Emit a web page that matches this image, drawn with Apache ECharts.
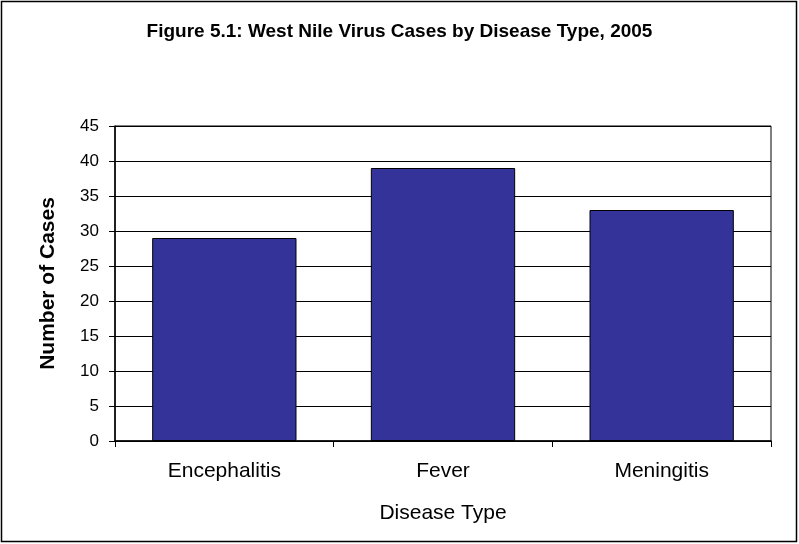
<!DOCTYPE html>
<html><head><meta charset="utf-8">
<script src="https://cdn.jsdelivr.net/npm/echarts@6/dist/echarts.min.js"></script>
<style>html,body{margin:0;padding:0;background:#fff}#c{width:799px;height:544px}</style>
</head><body><div id="c"></div>
<script>
const categories = ['Encephalitis', 'Fever', 'Meningitis'];
const cases = [29, 39, 33];
const yTicks = { min: 0, max: 45, interval: 5 };

const chart = echarts.init(document.getElementById('c'), null, { renderer: 'canvas' });
chart.setOption({
  animation: false,
  backgroundColor: '#fff',
  textStyle: { fontFamily: 'Liberation Sans, Arial, sans-serif' },
  title: {
    text: 'Figure 5.1: West Nile Virus Cases by Disease Type, 2005',
    left: 'center', top: 17,
    textStyle: { fontSize: 19, fontWeight: 'bold', color: '#000', fontFamily: 'Liberation Sans, Arial, sans-serif' }
  },
  graphic: [{
    type: 'rect', shape: { x: 1.5, y: 1.5, width: 795, height: 540 },
    style: { fill: null, stroke: '#000', lineWidth: 1.5 }, silent: true
  }, {
    type: 'rect', shape: { x: 115, y: 126, width: 656, height: 315 },
    style: { fill: null, stroke: '#000', lineWidth: 1 }, silent: true, z: 10
  }],
  grid: { left: 115, right: 28, top: 126, bottom: 103, show: false },
  xAxis: {
    type: 'category', data: categories,
    name: 'Disease Type', nameLocation: 'middle', nameGap: 62,
    nameTextStyle: { fontSize: 21, color: '#000' },
    axisLine: { lineStyle: { color: '#000', width: 1.5 } },
    axisTick: { show: true, length: 6, lineStyle: { color: '#000' } },
    axisLabel: { fontSize: 21, color: '#000', margin: 20 }
  },
  yAxis: {
    type: 'value', min: yTicks.min, max: yTicks.max, interval: yTicks.interval,
    name: 'Number of Cases', nameLocation: 'middle', nameGap: 56,
    nameTextStyle: { fontSize: 21, fontWeight: 'bold', color: '#000' },
    axisLine: { show: true, lineStyle: { color: '#000', width: 1.5 } },
    axisTick: { show: true, length: 6, lineStyle: { color: '#000' } },
    axisLabel: { fontSize: 17, color: '#000', margin: 16 },
    splitLine: { show: true, lineStyle: { color: '#000', width: 1 } }
  },
  series: [{
    type: 'bar', data: cases, barCategoryGap: '34%',
    itemStyle: { color: '#333399', borderColor: '#000', borderWidth: 1 }
  }]
});
</script></body></html>
